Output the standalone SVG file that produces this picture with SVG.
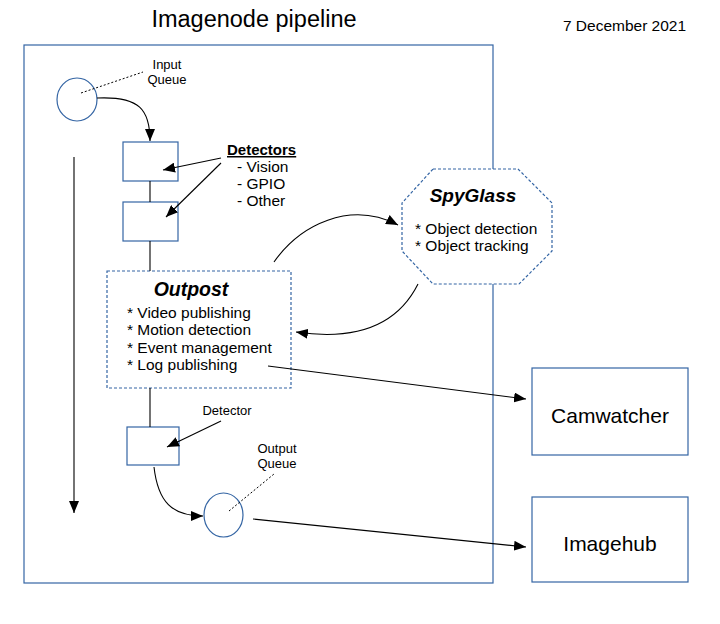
<svg xmlns="http://www.w3.org/2000/svg" width="720" height="624" viewBox="0 0 720 624">
<defs>
<marker id="ah" viewBox="0 0 12 10" refX="12" refY="5" markerWidth="12" markerHeight="10" markerUnits="userSpaceOnUse" orient="auto">
<path d="M0,0 L12,5 L0,10 Z" fill="#000"/>
</marker>
</defs>
<style>
text{font-family:"Liberation Sans",Arial,sans-serif;fill:#000}
.box{fill:#fff;stroke:#3465a4;stroke-width:1.2}
.dash{fill:#fff;stroke:#3465a4;stroke-width:1.2;stroke-dasharray:3 2}
.ln{fill:none;stroke:#000;stroke-width:1.1}
.arr{fill:none;stroke:#000;stroke-width:1.1;marker-end:url(#ah)}
.dot{fill:none;stroke:#000;stroke-width:1;stroke-dasharray:2 2}
.s12{font-size:13px}
.s14{font-size:15.5px}
</style>
<rect fill="#fff" width="720" height="624"/>
<g id="title">
<text x="254" y="27" font-size="23.5" text-anchor="middle">Imagenode pipeline</text>
<text x="624.5" y="31" font-size="15.5" text-anchor="middle">7 December 2021</text>
</g>
<g id="frame"><rect class="box" x="24" y="45" width="469" height="538" fill="none"/></g>
<g id="input-queue">
<ellipse class="box" cx="77" cy="99.5" rx="20" ry="21.5"/>
<text class="s12" x="167" y="69" text-anchor="middle">Input</text>
<text class="s12" x="167" y="84" text-anchor="middle">Queue</text>
</g>
<g id="detector1"><rect class="box" x="123" y="142" width="55" height="39"/></g>
<g id="detector2"><rect class="box" x="123" y="202" width="55" height="39"/></g>
<g id="detectors-label">
<text x="227" y="155" font-size="15" font-weight="bold" text-decoration="underline">Detectors</text>
<text class="s14" x="237" y="172">- Vision</text>
<text class="s14" x="237" y="189">- GPIO</text>
<text class="s14" x="237" y="206">- Other</text>
</g>
<g id="outpost">
<rect class="dash" x="107" y="271" width="184" height="117"/>
<text x="191" y="296" font-size="19.5" font-weight="bold" font-style="italic" text-anchor="middle">Outpost</text>
<text class="s14" x="127" y="318">* Video publishing</text>
<text class="s14" x="127" y="335">* Motion detection</text>
<text class="s14" x="127" y="353">* Event management</text>
<text class="s14" x="127" y="370">* Log publishing</text>
</g>
<g id="spyglass">
<polygon class="dash" points="433,169 518,169 552,203 552,251 519,284 433,284 402,251 402,203"/>
<text x="473" y="202" font-size="19" font-weight="bold" font-style="italic" text-anchor="middle">SpyGlass</text>
<text class="s14" x="415" y="234">* Object detection</text>
<text class="s14" x="415" y="251">* Object tracking</text>
</g>
<g id="detector3">
<rect class="box" x="127" y="427" width="52" height="38"/>
<text class="s12" x="227" y="415" text-anchor="middle">Detector</text>
</g>
<g id="output-queue">
<ellipse class="box" cx="223.5" cy="515" rx="19.5" ry="22"/>
<text class="s12" x="277" y="453" text-anchor="middle">Output</text>
<text class="s12" x="277" y="468" text-anchor="middle">Queue</text>
</g>
<g id="camwatcher">
<rect class="box" x="532" y="368" width="156" height="87"/>
<text x="610" y="423" font-size="21" text-anchor="middle">Camwatcher</text>
</g>
<g id="imagehub">
<rect class="box" x="532" y="497" width="156" height="85"/>
<text x="610" y="551" font-size="21" text-anchor="middle">Imagehub</text>
</g>
<g id="connectors">
<line class="ln" x1="150" y1="181" x2="150" y2="202"/>
<line class="ln" x1="150" y1="241" x2="150" y2="271"/>
<line class="ln" x1="150" y1="388" x2="150" y2="427"/>
<line class="arr" x1="74" y1="157" x2="74" y2="513"/>
<path class="arr" d="M97,98 C140,96 150,110 150,141"/>
<line class="arr" x1="221" y1="158" x2="163" y2="170"/>
<line class="arr" x1="221" y1="163" x2="166" y2="217"/>
<path class="arr" d="M274,262 C300,225 350,200 398,225"/>
<path class="arr" d="M418,284 C395,330 350,340 296,332"/>
<line class="arr" x1="268" y1="366" x2="526" y2="399"/>
<line class="arr" x1="221" y1="421" x2="167" y2="447"/>
<path class="arr" d="M154,467 C158,502 172,516 203,516"/>
<line class="arr" x1="253" y1="519" x2="526" y2="547"/>
<line class="dot" x1="81" y1="93" x2="143" y2="72"/>
<line class="dot" x1="229" y1="511" x2="274" y2="474"/>
</g>
</svg>
